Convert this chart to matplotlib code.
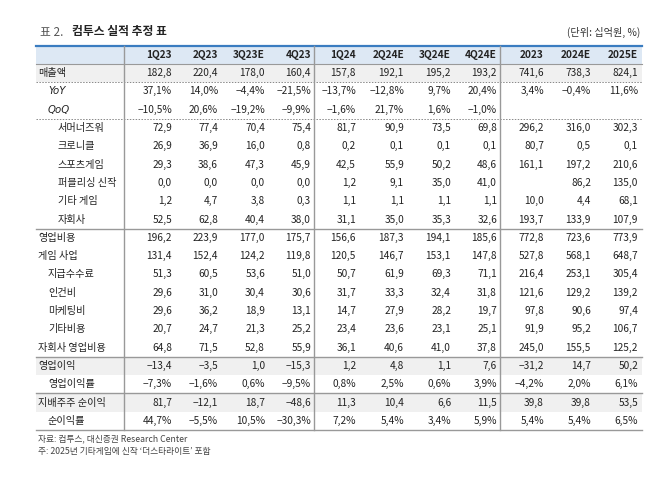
import matplotlib
matplotlib.use("Agg")
import matplotlib.pyplot as plt

plt.rcParams["font.family"] = ["Noto Sans CJK KR", "DejaVu Sans"]

COLUMNS = ["1Q23", "2Q23", "3Q23E", "4Q23", "1Q24", "2Q24E", "3Q24E", "4Q24E",
           "2023", "2024E", "2025E"]

revenue   = [182.8, 220.4, 178.0, 160.4, 157.8, 192.1, 195.2, 193.2, 741.6, 738.3, 824.1]
yoy       = [37.1, 14.0, -4.4, -21.5, -13.7, -12.8, 9.7, 20.4, 3.4, -0.4, 11.6]
qoq       = [-10.5, 20.6, -19.2, -9.9, -1.6, 21.7, 1.6, -1.0, None, None, None]
summoners = [72.9, 77.4, 70.4, 75.4, 81.7, 90.9, 73.5, 69.8, 296.2, 316.0, 302.3]
chronicle = [26.9, 36.9, 16.0, 0.8, 0.2, 0.1, 0.1, 0.1, 80.7, 0.5, 0.1]
sports    = [29.3, 38.6, 47.3, 45.9, 42.5, 55.9, 50.2, 48.6, 161.1, 197.2, 210.6]
publish   = [0.0, 0.0, 0.0, 0.0, 1.2, 9.1, 35.0, 41.0, None, 86.2, 135.0]
other_gm  = [1.2, 4.7, 3.8, 0.3, 1.1, 1.1, 1.1, 1.1, 10.0, 4.4, 68.1]
subsid    = [52.5, 62.8, 40.4, 38.0, 31.1, 35.0, 35.3, 32.6, 193.7, 133.9, 107.9]
opex      = [196.2, 223.9, 177.0, 175.7, 156.6, 187.3, 194.1, 185.6, 772.8, 723.6, 773.9]
game_biz  = [131.4, 152.4, 124.2, 119.8, 120.5, 146.7, 153.1, 147.8, 527.8, 568.1, 648.7]
fees      = [51.3, 60.5, 53.6, 51.0, 50.7, 61.9, 69.3, 71.1, 216.4, 253.1, 305.4]
labor     = [29.6, 31.0, 30.4, 30.6, 31.7, 33.3, 32.4, 31.8, 121.6, 129.2, 139.2]
marketing = [29.6, 36.2, 18.9, 13.1, 14.7, 27.9, 28.2, 19.7, 97.8, 90.6, 97.4]
other_exp = [20.7, 24.7, 21.3, 25.2, 23.4, 23.6, 23.1, 25.1, 91.9, 95.2, 106.7]
sub_opex  = [64.8, 71.5, 52.8, 55.9, 36.1, 40.6, 41.0, 37.8, 245.0, 155.5, 125.2]
op_income = [-13.4, -3.5, 1.0, -15.3, 1.2, 4.8, 1.1, 7.6, -31.2, 14.7, 50.2]
op_margin = [-7.3, -1.6, 0.6, -9.5, 0.8, 2.5, 0.6, 3.9, -4.2, 2.0, 6.1]
net_inc   = [81.7, -12.1, 18.7, -48.6, 11.3, 10.4, 6.6, 11.5, 39.8, 39.8, 53.5]
net_mgn   = [44.7, -5.5, 10.5, -30.3, 7.2, 5.4, 3.4, 5.9, 5.4, 5.4, 6.5]

# (label, indent level, is_percent, values)
ROWS = [
    ("매출액", 0, False, revenue),
    ("YoY", 1, True, yoy),
    ("QoQ", 1, True, qoq),
    ("서머너즈워", 2, False, summoners),
    ("크로니클", 2, False, chronicle),
    ("스포츠게임", 2, False, sports),
    ("퍼블리싱 신작", 2, False, publish),
    ("기타 게임", 2, False, other_gm),
    ("자회사", 2, False, subsid),
    ("영업비용", 0, False, opex),
    ("게임 사업", 0, False, game_biz),
    ("지급수수료", 1, False, fees),
    ("인건비", 1, False, labor),
    ("마케팅비", 1, False, marketing),
    ("기타비용", 1, False, other_exp),
    ("자회사 영업비용", 0, False, sub_opex),
    ("영업이익", 0, False, op_income),
    ("영업이익률", 1, True, op_margin),
    ("지배주주 순이익", 0, False, net_inc),
    ("순이익률", 1, True, net_mgn),
]
SHADED = {"매출액", "영업이익", "지배주주 순이익"}


def fmt(v, pct):
    if v is None:
        return ""
    s = f"{abs(v):.1f}".replace(".", ",")
    if v < 0:
        s = "\u2212" + s
    return s + ("%" if pct else "")


fig = plt.figure(figsize=(6.7, 4.8), dpi=100)
ax = fig.add_axes([0, 0, 1, 1])
ax.set_xlim(0, 670)
ax.set_ylim(480, 0)
ax.axis("off")

FS = 7.3
L, R = 36, 642
col_right = [172, 218, 265, 311, 356, 404, 451, 497, 544, 591, 638]
top, head_h, row_h = 46, 18, 18.3

ax.text(40, 32, "표 2.", fontsize=8.5, color="#555555", va="center")
ax.text(72, 32, "컴투스 실적 추정 표", fontsize=8.5, fontweight="bold",
        color="#222222", va="center")
ax.text(R - 2, 32, "(단위: 십억원, %)", fontsize=FS, ha="right", va="center",
        color="#333333")

# header
ax.add_patch(plt.Rectangle((L, top), R - L, head_h, color="#dde8f4", lw=0))
ax.plot([L, R], [top, top], color="#3a7cc0", lw=1.6)
ax.plot([L, R], [top + head_h, top + head_h], color="#999999", lw=0.8)
for x, c in zip(col_right, COLUMNS):
    ax.text(x, top + head_h / 2, c, fontsize=FS, fontweight="bold",
            ha="right", va="center", color="#222222")

y = top + head_h
line_after = {"매출액": "dot", "QoQ": "dot", "자회사": "solid",
              "자회사 영업비용": "solid", "영업이익률": "solid", "순이익률": "solid"}
indent = {0: 38, 1: 48, 2: 58}
for label, lvl, pct, vals in ROWS:
    if label in SHADED:
        ax.add_patch(plt.Rectangle((L, y), R - L, row_h, color="#f0f0f0", lw=0))
    cy = y + row_h / 2
    if label in ("YoY", "QoQ"):
        ax.text(indent[lvl], cy, label, fontsize=FS, va="center", style="italic",
                family="DejaVu Sans", color="#222222")
    else:
        ax.text(indent[lvl], cy, label, fontsize=FS, va="center", color="#222222")
    for x, v in zip(col_right, vals):
        ax.text(x, cy, fmt(v, pct), fontsize=FS, ha="right", va="center",
                color="#222222")
    y += row_h
    kind = line_after.get(label)
    if kind == "dot":
        ax.plot([L, R], [y, y], color="#888888", lw=0.7, ls=(0, (1.5, 1.5)))
    elif kind == "solid":
        ax.plot([L, R], [y, y], color="#999999", lw=1.0)

bottom = y
for x in (124, 314, 500):
    ax.plot([x, x], [top, bottom], color="#999999", lw=1.0)

ax.text(38, bottom + 9, "자료: 컴투스, 대신증권 Research Center", fontsize=6.3,
        va="center", color="#444444")
ax.text(38, bottom + 21, "주: 2025년 기타게임에 신작 ‘더스타라이트’ 포함", fontsize=6.3,
        va="center", color="#444444")

fig.savefig("out.png", dpi=100)
